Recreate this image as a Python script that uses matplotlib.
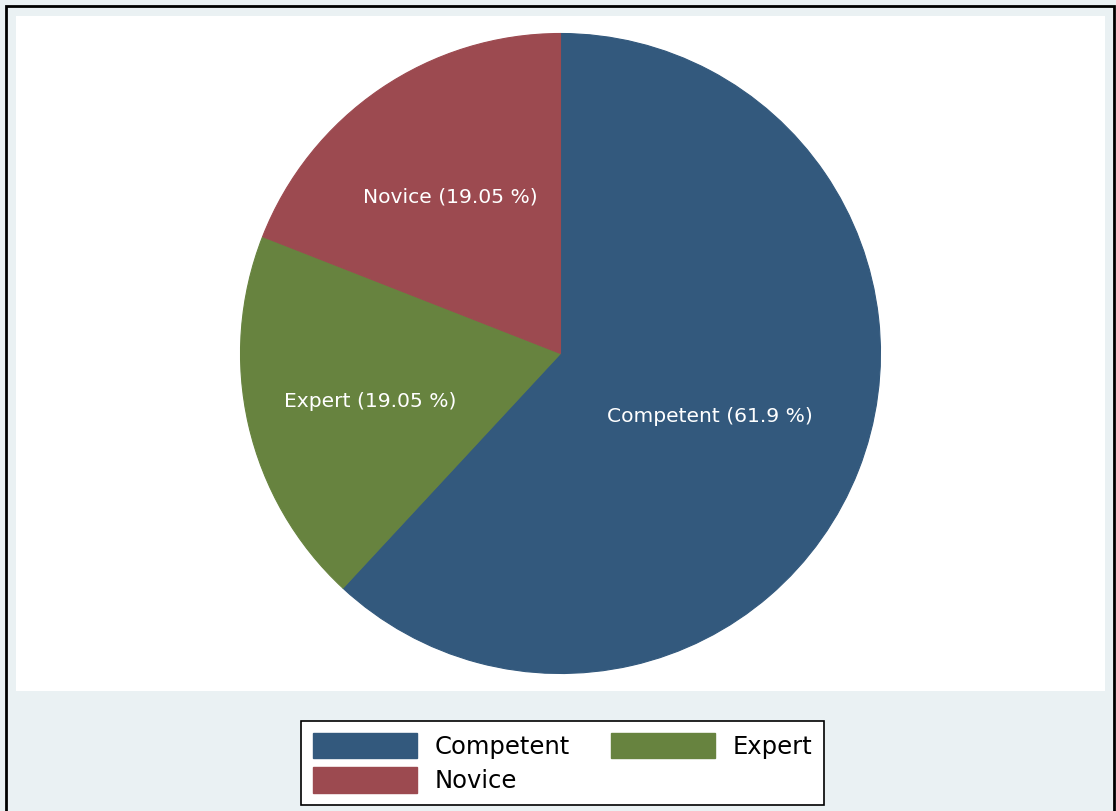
import numpy as np
import matplotlib.pyplot as plt
from matplotlib.patches import Patch, Rectangle

categories = ["Competent", "Expert", "Novice"]
shares = [61.9, 19.05, 19.05]
colors = ["#33597d", "#67833f", "#9c4a50"]
# how far out (fraction of radius) each slice label sits
label_r = [0.50, 0.61, 0.61]

plt.rcParams['font.family'] = ['DejaVu Sans']

fig = plt.figure(figsize=(11.16, 8.11), dpi=100, facecolor="#eaf1f3")
W, H = 1116, 811
ax = fig.add_axes([16 / W, 1 - 691 / H, 1089 / W, 675 / H])

wedges, _ = ax.pie(shares, colors=colors, startangle=90, counterclock=False,
                   radius=1, wedgeprops=dict(linewidth=0.8))
for w, c in zip(wedges, colors):
    w.set_edgecolor(c)

for w, name, val, r in zip(wedges, categories, shares, label_r):
    mid = np.deg2rad((w.theta1 + w.theta2) / 2)
    ax.text(r * np.cos(mid), r * np.sin(mid) - 0.015, f"{name} ({val:g} %)",
            color="white", ha="center", va="center", fontsize=14.6)

# white plot region
ax.set_frame_on(True)
ax.patch.set_facecolor("white")
for s in ax.spines.values():
    s.set_visible(False)
ax.set_xticks([])
ax.set_yticks([])
ax.set_xlim(-1089 / 640, 1089 / 640)
ax.set_ylim(-675 / 640, 675 / 640)
ax.set_aspect("auto")

# outer frame (runs off the bottom edge)
fig.patches.append(Rectangle((6 / W, -0.05), (1114 - 6) / W, 1.05 - 5.5 / H,
                             transform=fig.transFigure, fill=False,
                             edgecolor="black", linewidth=2))

order = [0, 2, 1]
handles = [Patch(facecolor=colors[i], edgecolor=colors[i]) for i in order]
leg = fig.legend(handles, [categories[i] for i in order], ncol=2,
                 loc="center", bbox_to_anchor=(562.5 / W, 1 - 763 / H),
                 fontsize=17.5, handlelength=4.3, handleheight=1.25,
                 columnspacing=1.7, labelspacing=0.35, handletextpad=0.7,
                 fancybox=False, framealpha=1, borderpad=0.5)
leg.get_frame().set_edgecolor("black")
leg.get_frame().set_linewidth(1.2)

fig.savefig("out.png", dpi=100, facecolor=fig.get_facecolor())
